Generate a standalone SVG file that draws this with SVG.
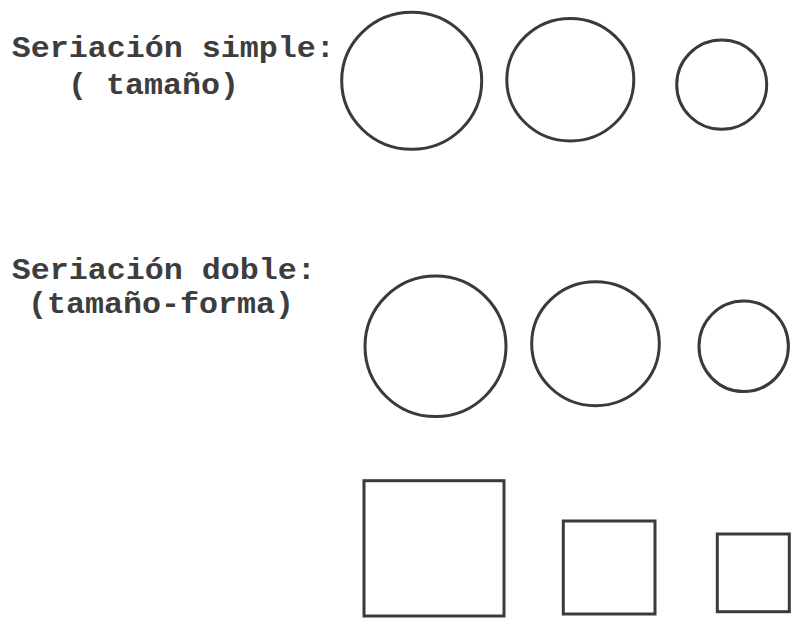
<svg xmlns="http://www.w3.org/2000/svg" width="791" height="618" viewBox="0 0 791 618">
<style>
.lbl{font-family:"Liberation Mono","Courier New",monospace;font-weight:bold;font-size:30px;fill:#3d3d3d}
.sh{fill:none;stroke:#3a3a3a;stroke-width:3}
</style>
<rect width="791" height="618" fill="#ffffff"/>
<g id="label-simple">
<text class="lbl" x="11.7" y="57" textLength="323" lengthAdjust="spacingAndGlyphs">Seriación simple:</text>
<text class="lbl" x="68" y="94" textLength="171" lengthAdjust="spacingAndGlyphs">( tamaño)</text>
</g>
<g id="label-doble">
<text class="lbl" x="11.7" y="279" textLength="304" lengthAdjust="spacingAndGlyphs">Seriación doble:</text>
<text class="lbl" x="28" y="313" textLength="266" lengthAdjust="spacingAndGlyphs">(tamaño-forma)</text>
</g>
<g id="simple-circle-1"><ellipse class="sh" cx="411.7" cy="80.8" rx="70" ry="68.5"/></g>
<g id="simple-circle-2"><ellipse class="sh" cx="570.3" cy="79.7" rx="63.5" ry="61.3"/></g>
<g id="simple-circle-3"><ellipse class="sh" cx="721.7" cy="84.7" rx="45" ry="44.6"/></g>
<g id="doble-circle-1"><ellipse class="sh" cx="435.5" cy="346.3" rx="70.5" ry="70.3"/></g>
<g id="doble-circle-2"><ellipse class="sh" cx="595.5" cy="343.7" rx="63.8" ry="62"/></g>
<g id="doble-circle-3"><ellipse class="sh" cx="743.7" cy="346.3" rx="44.7" ry="45.3"/></g>
<g id="doble-square-1"><rect class="sh" x="364" y="480.7" width="140" height="135.3"/></g>
<g id="doble-square-2"><rect class="sh" x="563.3" y="521" width="91.7" height="93"/></g>
<g id="doble-square-3"><rect class="sh" x="717.3" y="534" width="72" height="77.7"/></g>
</svg>
